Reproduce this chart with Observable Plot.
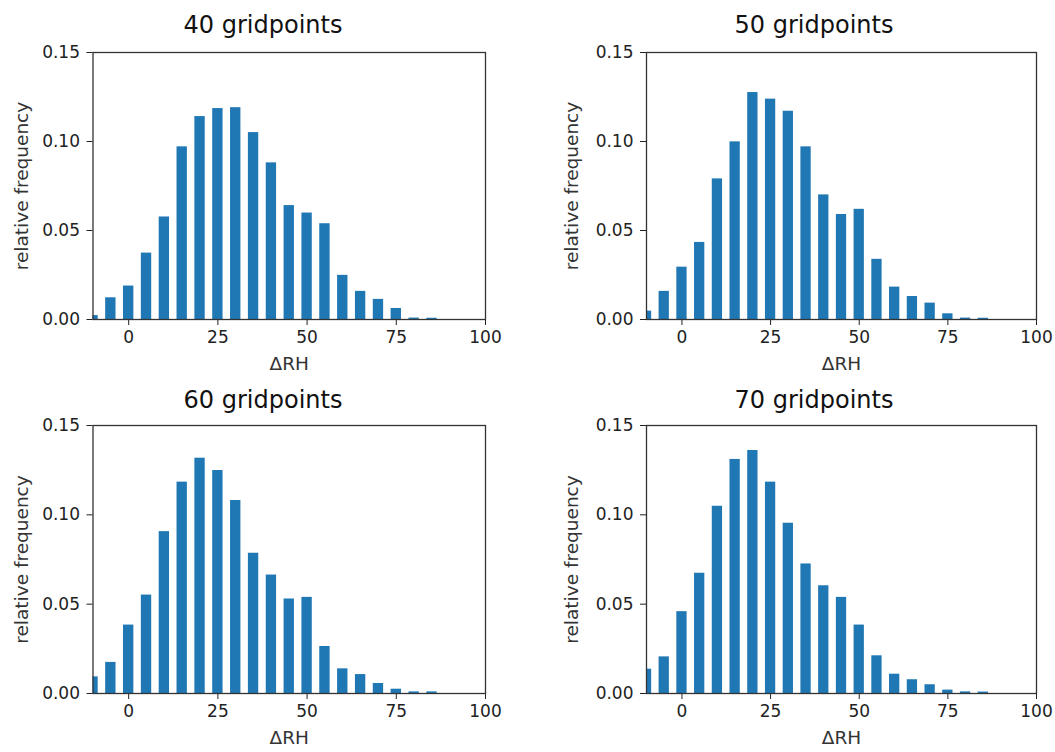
<!DOCTYPE html>
<html>
<head>
<meta charset="utf-8">
<script src="https://cdn.jsdelivr.net/npm/d3@7"></script>
<script src="https://cdn.jsdelivr.net/npm/@observablehq/plot@0.6"></script>
<style>
  html, body { margin: 0; padding: 0; background: #fff; }
  #root { position: relative; width: 1055px; height: 752px; font-family: "DejaVu Sans", sans-serif; }
  .title { position: absolute; font-size: 24px; line-height: 24px; color: #111; white-space: nowrap; transform: translateX(-50%); }
  .panel { position: absolute; }
  .panel g[aria-label="y-axis label"] text, .panel g[aria-label="x-axis label"] text { font-size: 18.5px; fill: #333; }
</style>
</head>
<body>
<div id="root"></div>
<script>
// ---- data ----
const binCenters = [-10, -5, 0, 5, 10, 15, 20, 25, 30, 35, 40, 45, 50, 55, 60, 65, 70, 75, 80, 85];
const panelTitles = ["40 gridpoints", "50 gridpoints", "60 gridpoints", "70 gridpoints"];
const freq40 = [0.0022, 0.0122, 0.0188, 0.0373, 0.0576, 0.0970, 0.1140, 0.1185, 0.1190, 0.1050, 0.0880, 0.0640, 0.0598, 0.0538, 0.0248, 0.0158, 0.0113, 0.0062, 0.0008, 0.0007];
const freq50 = [0.0047, 0.0158, 0.0294, 0.0433, 0.0790, 0.0998, 0.1275, 0.1238, 0.1170, 0.0970, 0.0700, 0.0590, 0.0619, 0.0338, 0.0182, 0.0129, 0.0092, 0.0032, 0.0008, 0.0007];
const freq60 = [0.0093, 0.0174, 0.0383, 0.0551, 0.0906, 0.1183, 0.1317, 0.1248, 0.1080, 0.0785, 0.0663, 0.0529, 0.0538, 0.0263, 0.0138, 0.0106, 0.0056, 0.0024, 0.0009, 0.0009];
const freq70 = [0.0136, 0.0205, 0.0458, 0.0673, 0.1048, 0.1310, 0.1360, 0.1183, 0.0953, 0.0725, 0.0603, 0.0538, 0.0383, 0.0211, 0.0108, 0.0077, 0.0049, 0.0019, 0.0009, 0.0008];
const xTicks = [0, 25, 50, 75, 100];
const yTicks = [0, 0.05, 0.10, 0.15];
const xLabel = "ΔRH";
const yLabel = "relative frequency";

const series = [freq40, freq50, freq60, freq70];

// ---- layout ----
const layouts = [
  {left: 0,   top: 40,  width: 527, marginLeft: 92.5, marginRight: 42, frameTop: 52,  frameBottom: 319, titleX: 263, titleTop: 13, yLabelOffset: 78},
  {left: 527, top: 40,  width: 528, marginLeft: 119,  marginRight: 19, frameTop: 52,  frameBottom: 319, titleX: 814, titleTop: 13, yLabelOffset: 82},
  {left: 0,   top: 413, width: 527, marginLeft: 92.5, marginRight: 42, frameTop: 425, frameBottom: 693, titleX: 263, titleTop: 388, yLabelOffset: 78},
  {left: 527, top: 413, width: 528, marginLeft: 119,  marginRight: 19, frameTop: 425, frameBottom: 693, titleX: 814, titleTop: 388, yLabelOffset: 82}
];
const halfWidth = 1.45;
const root = document.getElementById("root");

series.forEach((vals, i) => {
  const L = layouts[i];
  const rows = binCenters.map((c, j) => ({c, f: vals[j]}));
  const height = 339;
  const marginTop = L.frameTop - L.top;
  const marginBottom = height - (L.frameBottom - L.top);

  const t = document.createElement("div");
  t.className = "title";
  t.style.left = L.titleX + "px";
  t.style.top = L.titleTop + "px";
  t.textContent = panelTitles[i];
  root.appendChild(t);

  const svg = Plot.plot({
    width: L.width,
    height,
    marginLeft: L.marginLeft,
    marginRight: L.marginRight,
    marginTop,
    marginBottom,
    style: {fontFamily: "DejaVu Sans, sans-serif", fontSize: "17px", color: "#222", background: "transparent", overflow: "visible"},
    x: {domain: [-10, 100]},
    y: {domain: [0, 0.15]},
    marks: [
      Plot.rectY(rows, {x1: d => d.c - halfWidth, x2: d => d.c + halfWidth, y: "f", fill: "#1f77b4", clip: true}),
      Plot.axisX({ticks: xTicks, tickSize: 6, tickPadding: 5, tickFormat: d3.format("d"),
        label: xLabel, labelAnchor: "center", labelArrow: "none", labelOffset: 50, stroke: "#222"}),
      Plot.axisY({ticks: yTicks, tickSize: 6, tickPadding: 7, tickFormat: d3.format(".2f"),
        label: yLabel, labelAnchor: "center", labelArrow: "none", labelOffset: L.yLabelOffset, stroke: "#222"}),
      Plot.frame({stroke: "#333", strokeWidth: 1.3})
    ]
  });
  svg.classList.add("panel");
  svg.style.left = L.left + "px";
  svg.style.top = L.top + "px";
  root.appendChild(svg);
});
</script>
</body>
</html>
